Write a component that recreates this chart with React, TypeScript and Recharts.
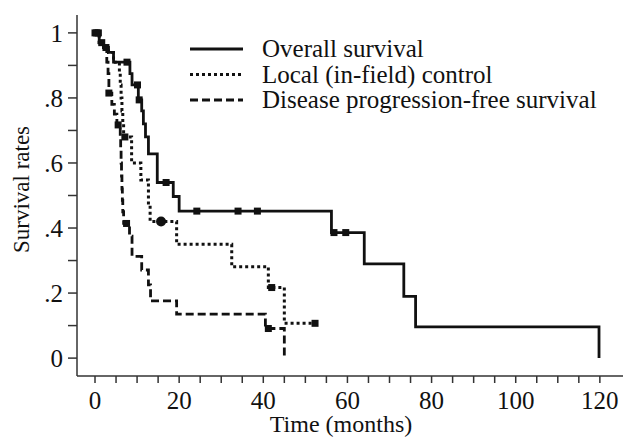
import React from 'react';
import { ComposedChart, Line, Scatter, XAxis, YAxis, Label } from 'recharts';

// Overall survival (solid)
const osTimes = [0, 1.0, 2.0, 3.2, 4.4, 8.3, 8.8, 10.3, 11.1, 11.5, 12.0, 12.7, 14.8, 18.6, 20.0, 56.2, 64.0, 73.4, 76.2, 119.8];
const osRates = [1, 0.97, 0.955, 0.94, 0.91, 0.875, 0.84, 0.794, 0.76, 0.72, 0.68, 0.628, 0.54, 0.497, 0.452, 0.386, 0.29, 0.19, 0.096, 0];
const osCensorTimes = [0, 0.8, 1.6, 2.6, 7.6, 10.1, 10.5, 16.9, 24.2, 34.0, 38.6, 56.8, 59.6];

// Local (in-field) control (dotted)
const lcTimes = [0, 1.0, 2.0, 3.2, 4.4, 5.8, 6.0, 6.2, 6.4, 6.6, 6.8, 8.7, 10.9, 12.7, 13.1, 19.4, 32.5, 41.2, 45.0, 52.3];
const lcRates = [1, 0.97, 0.955, 0.94, 0.91, 0.875, 0.84, 0.8, 0.76, 0.72, 0.68, 0.6, 0.548, 0.477, 0.42, 0.35, 0.281, 0.217, 0.107, 0.107];
const lcCensorTimes = [0.4, 7.1, 42.0, 52.3];
const lcBigCensorTimes = [15.7];

// Disease progression-free survival (dashed)
const pfTimes = [0, 1.0, 2.0, 2.8, 3.1, 3.3, 4.0, 4.6, 5.2, 6.0, 6.1, 6.2, 6.3, 6.4, 6.5, 6.6, 6.8, 8.2, 8.8, 11.1, 12.7, 13.2, 19.4, 40.5, 45.0];
const pfRates = [1, 0.97, 0.955, 0.91, 0.875, 0.815, 0.78, 0.75, 0.717, 0.68, 0.64, 0.6, 0.56, 0.52, 0.485, 0.45, 0.414, 0.375, 0.313, 0.271, 0.225, 0.176, 0.135, 0.091, 0];
const pfCensorTimes = [3.3, 5.5, 7.5, 41.2];

const xTicks = [0, 5, 10, 15, 20, 25, 30, 35, 40, 45, 50, 55, 60, 65, 70, 75, 80, 85, 90, 95, 100, 105, 110, 115, 120];
const yTicks = [0, 0.1, 0.2, 0.3, 0.4, 0.5, 0.6, 0.7, 0.8, 0.9, 1];

const legendLabels = ['Overall survival', 'Local (in-field) control', 'Disease progression-free survival'];

const FONT = "'Liberation Serif', 'Times New Roman', serif";
const INK = '#111';

const toPoints = (ts: number[], ss: number[]) => ts.map((t, i) => ({ t, s: ss[i] }));
const levelAt = (ts: number[], ss: number[], t: number) => {
  let v = ss[0];
  for (let i = 0; i < ts.length; i++) if (ts[i] <= t + 1e-9) v = ss[i];
  return v;
};
const censorPoints = (cts: number[], ts: number[], ss: number[]) => cts.map((t) => ({ t, s: levelAt(ts, ss, t) }));

const osData = toPoints(osTimes, osRates);
const lcData = toPoints(lcTimes, lcRates);
const pfData = toPoints(pfTimes, pfRates);
const osCensor = censorPoints(osCensorTimes, osTimes, osRates);
const lcCensor = censorPoints(lcCensorTimes, lcTimes, lcRates);
const lcBigCensor = censorPoints(lcBigCensorTimes, lcTimes, lcRates);
const pfCensor = censorPoints(pfCensorTimes, pfTimes, pfRates);

const SquareMark = (props: any) => {
  const { cx, cy } = props;
  if (cx == null || cy == null) return null;
  return <rect x={cx - 3.5} y={cy - 3.5} width={7} height={7} fill={INK} />;
};
const RoundMark = (props: any) => {
  const { cx, cy } = props;
  if (cx == null || cy == null) return null;
  return <circle cx={cx} cy={cy} r={5} fill={INK} />;
};

const yFmt = (v: number) => {
  const r = Math.round(v * 10);
  if (r % 2 !== 0) return '';
  if (r === 0) return '0';
  if (r === 10) return '1';
  return '.' + r;
};
const xFmt = (v: number) => (v % 20 === 0 ? String(v) : '');

const dashes = ['', '3 3', '8 4'];

const LegendOverlay = () => (
  <svg width={440} height={100} style={{ position: 'absolute', left: 180, top: 30, pointerEvents: 'none' }}>
    {legendLabels.map((lab, i) => {
      const y = 19 + i * 25.5;
      return (
        <g key={lab}>
          <line x1={10} x2={63} y1={y} y2={y} stroke={INK} strokeWidth={2.8} strokeDasharray={dashes[i] || undefined} />
          <text x={82} y={y + 8} fontFamily={FONT} fontSize={25} fill={INK}>{lab}</text>
        </g>
      );
    })}
  </svg>
);

export default function App() {
  return (
    <div style={{ position: 'absolute', left: 0, top: 0, width: 623, height: 438, overflow: 'hidden' }}>
      <ComposedChart width={623} height={438} margin={{ top: 15, right: 0, left: 0, bottom: 0 }}>
        <XAxis
          type="number"
          dataKey="t"
          domain={[-4.28, 125.5]}
          ticks={xTicks}
          tickFormatter={xFmt}
          allowDataOverflow
          interval={0}
          height={62}
          tickSize={7}
          tickMargin={8}
          stroke="#333"
          strokeWidth={1.5}
          tick={{ fontFamily: FONT, fontSize: 25, fill: INK }}
        >
          <Label
            content={(p: any) => {
              const vb = p.viewBox || { x: 77, y: 376, width: 546, height: 62 };
              return (
                <text x={vb.x + vb.width / 2 - 9} y={vb.y + 56} textAnchor="middle" fontFamily={FONT} fontSize={24} fill={INK}>
                  Time (months)
                </text>
              );
            }}
          />
        </XAxis>
        <YAxis
          type="number"
          domain={[-0.055, 1.055]}
          ticks={yTicks}
          tickFormatter={yFmt}
          allowDataOverflow
          interval={0}
          width={77}
          tickSize={9}
          tickMargin={5}
          stroke="#333"
          strokeWidth={1.5}
          tick={{ fontFamily: FONT, fontSize: 25, fill: INK }}
        >
          <Label
            content={(p: any) => {
              const vb = p.viewBox || { x: 0, y: 15, width: 77, height: 361 };
              const cx = vb.x + 21;
              const cy = vb.y + vb.height / 2 - 6;
              return (
                <text x={cx} y={cy} transform={`rotate(-90 ${cx} ${cy})`} textAnchor="middle" dominantBaseline="central" fontFamily={FONT} fontSize={23} fill={INK}>
                  Survival rates
                </text>
              );
            }}
          />
        </YAxis>
        <Line data={osData} dataKey="s" type="stepAfter" stroke={INK} strokeWidth={2.8} dot={false} isAnimationActive={false} legendType="none" />
        <Line data={lcData} dataKey="s" type="stepAfter" stroke={INK} strokeWidth={3} strokeDasharray="3 3" dot={false} isAnimationActive={false} legendType="none" />
        <Line data={pfData} dataKey="s" type="stepAfter" stroke={INK} strokeWidth={2.8} strokeDasharray="8 4" dot={false} isAnimationActive={false} legendType="none" />
        <Scatter data={osCensor} dataKey="s" shape={SquareMark} isAnimationActive={false} legendType="none" />
        <Scatter data={lcCensor} dataKey="s" shape={SquareMark} isAnimationActive={false} legendType="none" />
        <Scatter data={lcBigCensor} dataKey="s" shape={RoundMark} isAnimationActive={false} legendType="none" />
        <Scatter data={pfCensor} dataKey="s" shape={SquareMark} isAnimationActive={false} legendType="none" />
      </ComposedChart>
      <LegendOverlay />
    </div>
  );
}
